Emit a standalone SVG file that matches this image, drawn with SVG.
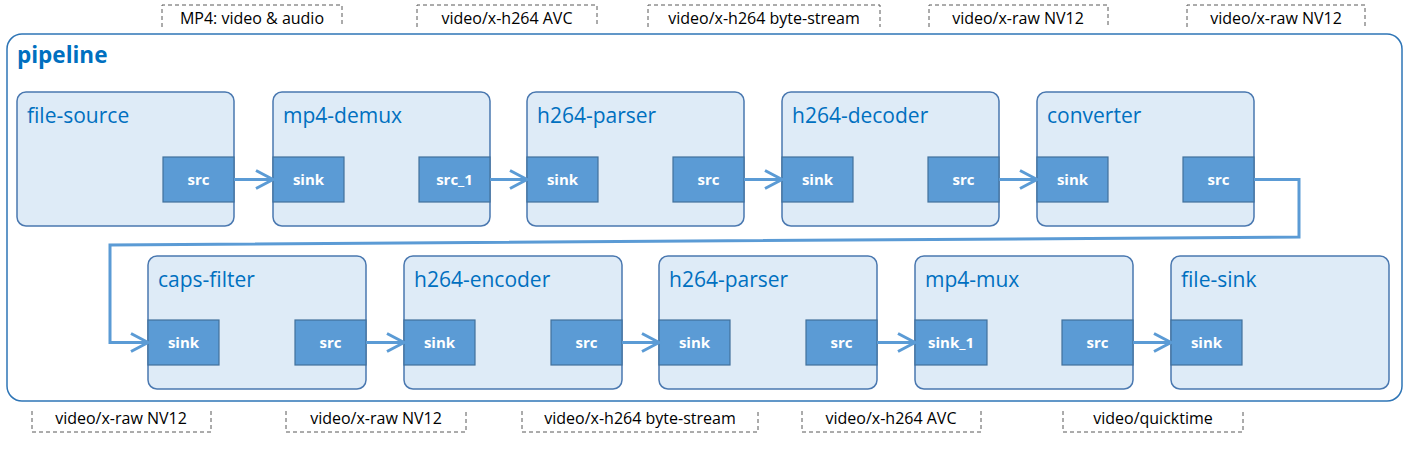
<svg xmlns="http://www.w3.org/2000/svg" width="1403" height="458" viewBox="0 0 1403 458">
<style>
.node{fill:#DEEBF7;stroke:#4A78B0;stroke-width:1.5}
.port{fill:#5B9BD5;stroke:#41719C;stroke-width:1.2}
.title{font-family:"Open Sans","Liberation Sans",Arial,sans-serif;font-size:21px;fill:#0070C0}
.ptxt{font-family:"Open Sans","Liberation Sans",Arial,sans-serif;font-size:15px;font-weight:bold;fill:#FFFFFF;text-anchor:middle}
.lbl{font-family:"Open Sans","Liberation Sans",Arial,sans-serif;font-size:16px;fill:#000000;text-anchor:middle}
.dash{fill:none;stroke:#595959;stroke-width:1;stroke-dasharray:4 3}
.conn{fill:none;stroke:#5B9BD5;stroke-width:3}
</style>
<defs>
<marker id="arr" markerUnits="userSpaceOnUse" markerWidth="22" markerHeight="24" refX="18" refY="11" orient="auto">
<path d="M1,2 L18,11 L1,20" fill="none" stroke="#5B9BD5" stroke-width="3"/>
</marker>
</defs>
<rect width="1403" height="458" fill="#FFFFFF"/>
<g id="pipeline">
<rect x="7" y="34" width="1395" height="367" rx="15" fill="#FFFFFF" stroke="#2E75B6" stroke-width="1.5"/>
<text x="17" y="63" font-family="Open Sans,Liberation Sans,Arial,sans-serif" font-size="22.5" font-weight="bold" fill="#0070C0">pipeline</text>
</g>
<g id="labels">
<path class="dash" d="M162,27 V5 H342 V27"/><text class="lbl" x="252" y="24">MP4: video &amp; audio</text>
<path class="dash" d="M417,27 V5 H597 V27"/><text class="lbl" x="507" y="24">video/x-h264 AVC</text>
<path class="dash" d="M648,27 V5 H880 V27"/><text class="lbl" x="764" y="24">video/x-h264 byte-stream</text>
<path class="dash" d="M929,27 V5 H1108 V27"/><text class="lbl" x="1018" y="24">video/x-raw NV12</text>
<path class="dash" d="M1187,27 V5 H1365 V27"/><text class="lbl" x="1276" y="24">video/x-raw NV12</text>
<path class="dash" d="M32,411 V432 H211 V411"/><text class="lbl" x="121" y="424">video/x-raw NV12</text>
<path class="dash" d="M286,411 V432 H466 V411"/><text class="lbl" x="376" y="424">video/x-raw NV12</text>
<path class="dash" d="M522,411 V432 H758 V411"/><text class="lbl" x="640" y="424">video/x-h264 byte-stream</text>
<path class="dash" d="M802,411 V432 H981 V411"/><text class="lbl" x="891" y="424">video/x-h264 AVC</text>
<path class="dash" d="M1063,411 V432 H1243 V411"/><text class="lbl" x="1153" y="424">video/quicktime</text>
</g>
<g id="file-source">
<rect class="node" x="17" y="92" width="217" height="134" rx="9"/>
<text class="title" x="27" y="123">file-source</text>
<rect class="port" x="163" y="157" width="71" height="45"/><text class="ptxt" x="198.5" y="185">src</text>
</g>
<g id="mp4-demux">
<rect class="node" x="273" y="92" width="217" height="134" rx="9"/>
<text class="title" x="283" y="123">mp4-demux</text>
<rect class="port" x="273" y="157" width="71" height="45"/><text class="ptxt" x="308.5" y="185">sink</text>
<rect class="port" x="419" y="157" width="71" height="45"/><text class="ptxt" x="454.5" y="185">src_1</text>
</g>
<g id="h264-parser-1">
<rect class="node" x="527" y="92" width="217" height="134" rx="9"/>
<text class="title" x="537" y="123">h264-parser</text>
<rect class="port" x="527" y="157" width="71" height="45"/><text class="ptxt" x="562.5" y="185">sink</text>
<rect class="port" x="673" y="157" width="71" height="45"/><text class="ptxt" x="708.5" y="185">src</text>
</g>
<g id="h264-decoder">
<rect class="node" x="782" y="92" width="217" height="134" rx="9"/>
<text class="title" x="792" y="123">h264-decoder</text>
<rect class="port" x="782" y="157" width="71" height="45"/><text class="ptxt" x="817.5" y="185">sink</text>
<rect class="port" x="928" y="157" width="71" height="45"/><text class="ptxt" x="963.5" y="185">src</text>
</g>
<g id="converter">
<rect class="node" x="1037" y="92" width="217" height="134" rx="9"/>
<text class="title" x="1047" y="123">converter</text>
<rect class="port" x="1037" y="157" width="71" height="45"/><text class="ptxt" x="1072.5" y="185">sink</text>
<rect class="port" x="1183" y="157" width="71" height="45"/><text class="ptxt" x="1218.5" y="185">src</text>
</g>
<g id="caps-filter">
<rect class="node" x="148" y="256" width="218" height="133" rx="9"/>
<text class="title" x="158" y="287">caps-filter</text>
<rect class="port" x="148" y="320" width="71" height="45"/><text class="ptxt" x="183.5" y="348">sink</text>
<rect class="port" x="295" y="320" width="71" height="45"/><text class="ptxt" x="330.5" y="348">src</text>
</g>
<g id="h264-encoder">
<rect class="node" x="404" y="256" width="218" height="133" rx="9"/>
<text class="title" x="414" y="287">h264-encoder</text>
<rect class="port" x="404" y="320" width="71" height="45"/><text class="ptxt" x="439.5" y="348">sink</text>
<rect class="port" x="551" y="320" width="71" height="45"/><text class="ptxt" x="586.5" y="348">src</text>
</g>
<g id="h264-parser-2">
<rect class="node" x="659" y="256" width="218" height="133" rx="9"/>
<text class="title" x="669" y="287">h264-parser</text>
<rect class="port" x="659" y="320" width="71" height="45"/><text class="ptxt" x="694.5" y="348">sink</text>
<rect class="port" x="806" y="320" width="71" height="45"/><text class="ptxt" x="841.5" y="348">src</text>
</g>
<g id="mp4-mux">
<rect class="node" x="915" y="256" width="218" height="133" rx="9"/>
<text class="title" x="925" y="287">mp4-mux</text>
<rect class="port" x="915" y="320" width="72" height="45"/><text class="ptxt" x="951" y="348">sink_1</text>
<rect class="port" x="1062" y="320" width="71" height="45"/><text class="ptxt" x="1097.5" y="348">src</text>
</g>
<g id="file-sink">
<rect class="node" x="1171" y="256" width="218" height="133" rx="9"/>
<text class="title" x="1181" y="287">file-sink</text>
<rect class="port" x="1171" y="320" width="71" height="45"/><text class="ptxt" x="1206.5" y="348">sink</text>
</g>
<g id="connectors">
<path class="conn" marker-end="url(#arr)" d="M234,179.5 H273"/>
<path class="conn" marker-end="url(#arr)" d="M490,179.5 H527"/>
<path class="conn" marker-end="url(#arr)" d="M744,179.5 H782"/>
<path class="conn" marker-end="url(#arr)" d="M999,179.5 H1037"/>
<path class="conn" marker-end="url(#arr)" d="M1254,179.5 H1299 V237 L110,245 V342.5 H148"/>
<path class="conn" marker-end="url(#arr)" d="M366,342.5 H404"/>
<path class="conn" marker-end="url(#arr)" d="M622,342.5 H659"/>
<path class="conn" marker-end="url(#arr)" d="M877,342.5 H915"/>
<path class="conn" marker-end="url(#arr)" d="M1133,342.5 H1171"/>
</g>
</svg>
